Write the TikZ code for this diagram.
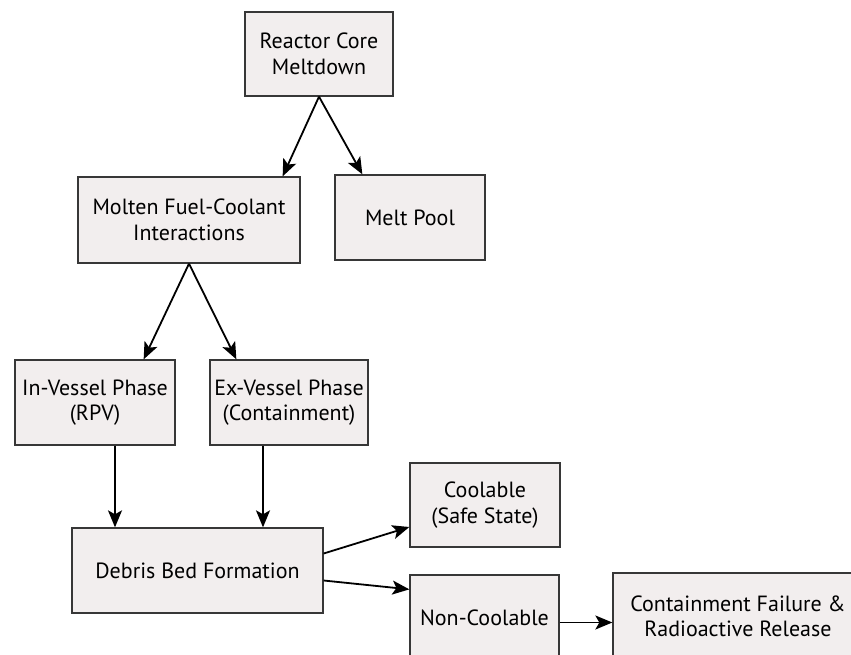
\documentclass[tikz,border=0pt]{standalone}
\usepackage{fontspec}
\setmainfont{PT Sans}
\usetikzlibrary{arrows.meta}

\definecolor{boxfill}{RGB}{242,238,238}
\definecolor{boxline}{RGB}{55,55,55}

\begin{document}
\begin{tikzpicture}[x=1pt, y=-1pt,
  every node/.style={font=\fontsize{22}{25.5}\selectfont},
  stage/.style={draw=boxline, fill=boxfill, line width=1.3pt, inner sep=0pt,
    align=center, minimum height=85pt},
  conn/.style={line width=1.8pt, -{Stealth[length=17pt,width=14pt,inset=4pt]}}]

  \useasboundingbox (0,0) rectangle (851,655);

  % Stages
  \node[stage, minimum width=148pt, minimum height=84pt] (rcm) at (319,54)
    {Reactor Core\\Meltdown};
  \node[stage, minimum width=222pt, minimum height=86pt] (mfci) at (189,220)
    {Molten Fuel-Coolant\\Interactions};
  \node[stage, minimum width=150pt] (mp) at (410,217.5) {Melt Pool};
  \node[stage, minimum width=160pt] (ivp) at (95,402.5)
    {In-Vessel Phase\\(RPV)};
  \node[stage, minimum width=158pt] (evp) at (289,402.5)
    {Ex-Vessel Phase\\(Containment)};
  \node[stage, minimum width=251pt] (dbf) at (197.5,570.5)
    {Debris Bed Formation};
  \node[stage, minimum width=150pt, minimum height=84pt] (cool) at (485,505)
    {Coolable\\(Safe State)};
  \node[stage, minimum width=149pt] (ncool) at (484.5,617.5) {Non-Coolable};
  \node[stage, minimum width=250pt, minimum height=87pt] (cfrr) at (738,616.5)
    {Containment Failure \&\\Radioactive Release};

  % Connectors
  \draw[conn] (rcm.south) -- ([xshift=-18pt]mfci.north east);
  \draw[conn] (rcm.south) -- ([xshift=28pt]mp.north west);
  \draw[conn] (mfci.south) -- ([xshift=-32pt]ivp.north east);
  \draw[conn] (mfci.south) -- ([xshift=27pt]evp.north west);
  \draw[conn] ([xshift=20pt]ivp.south) -- ([xshift=20pt]ivp.south |- dbf.north);
  \draw[conn] ([xshift=-26pt]evp.south) -- ([xshift=-26pt]evp.south |- dbf.north);
  \draw[conn] ([yshift=17pt]dbf.east) -- ([yshift=-22pt]cool.west);
  \draw[conn] ([yshift=-10pt]dbf.east) -- ([yshift=-15pt]ncool.north west);
  \draw[conn] ([yshift=-5pt]ncool.east) -- ([yshift=-5pt]ncool.east -| cfrr.west);
\end{tikzpicture}
\end{document}
